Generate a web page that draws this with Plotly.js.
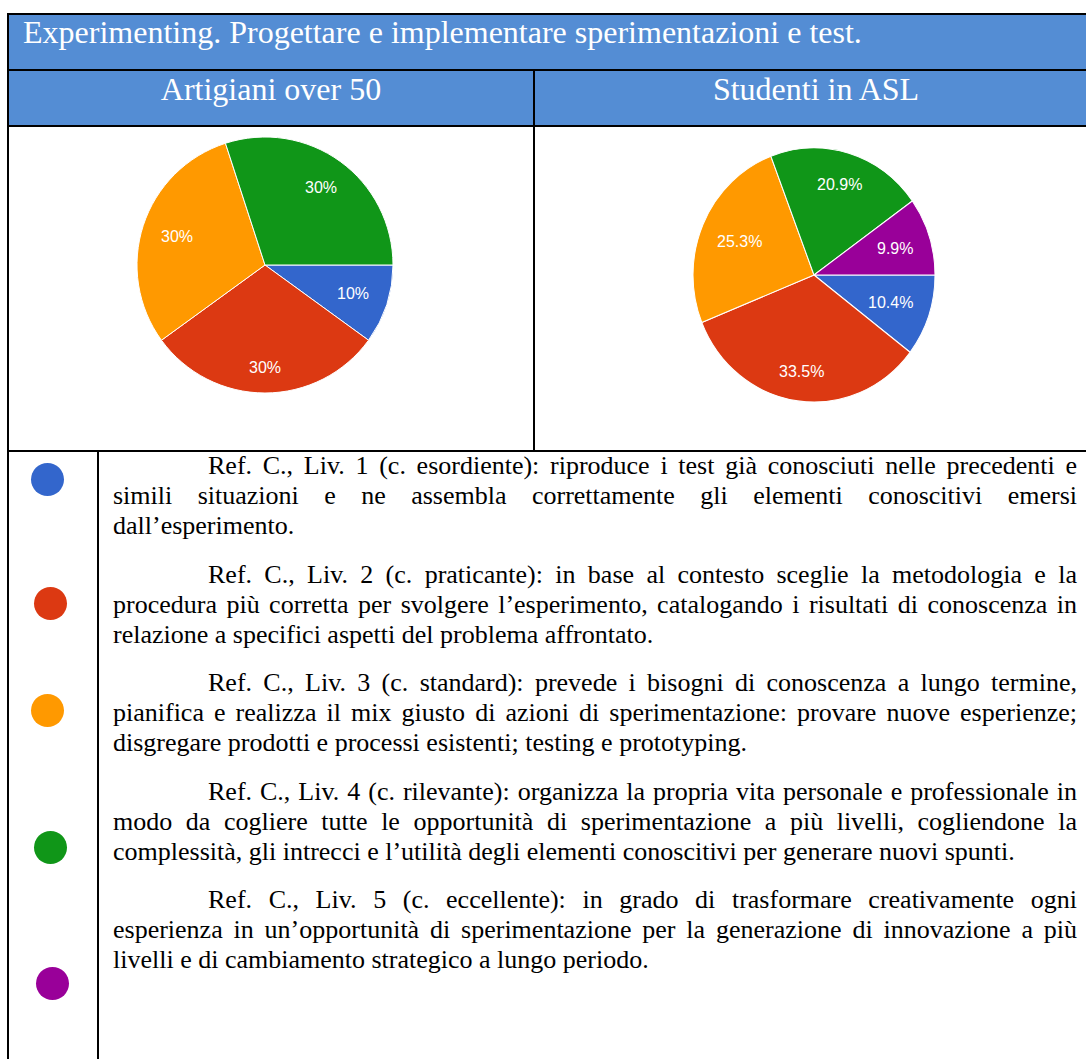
<!DOCTYPE html>
<html lang="it">
<head>
<meta charset="utf-8">
<title>Experimenting</title>
<script src="https://cdn.plot.ly/plotly-3.0.1.min.js"></script>
<style>
  html, body { margin: 0; padding: 0; background: #ffffff; }
  body {
    width: 1086px; height: 1059px; overflow: hidden; position: relative;
    font-family: "Liberation Serif", "Times New Roman", serif;
  }
  .band { position: absolute; background: #548DD4; }
  .rule { position: absolute; background: #000000; z-index: 5; }
  .head {
    position: absolute; color: #ffffff; font-size: 32px; line-height: 32px;
    white-space: nowrap;
  }
  .pie { position: absolute; }
  #levels {
    position: absolute; left: 113px; top: 451px; width: 964px;
    font-size: 26px; line-height: 30px; color: #000000;
  }
  #levels .para { margin: 0 0 18.5px 0; }
  #levels .line { white-space: nowrap; text-align: justify; text-align-last: justify; }
  #levels .line.first { text-indent: 95px; }
  #levels .line.last { text-align: left; text-align-last: left; }
  .dot { position: absolute; width: 33px; height: 33px; border-radius: 50%; }
</style>
</head>
<body>
<div id="page"></div>
<script>
// ---- data -------------------------------------------------------------
const pageTitle = 'Experimenting. Progettare e implementare sperimentazioni e test.';
const groupTitles = ['Artigiani over 50', 'Studenti in ASL'];
const levels = ['Liv. 1', 'Liv. 2', 'Liv. 3', 'Liv. 4', 'Liv. 5'];
const levelColors = ['#3366CC', '#DC3912', '#FF9900', '#109618', '#990099'];
const artigianiValues = [10, 30, 30, 30, 0];
const studentiValues = [10.4, 33.5, 25.3, 20.9, 9.9];

const levelLines = [
  ['Ref. C., Liv. 1 (c. esordiente): riproduce i test già conosciuti nelle precedenti e',
   'simili situazioni e ne assembla correttamente gli elementi conoscitivi emersi',
   'dall’esperimento.'],
  ['Ref. C., Liv. 2 (c. praticante): in base al contesto sceglie la metodologia e la',
   'procedura più corretta per svolgere l’esperimento, catalogando i risultati di conoscenza in',
   'relazione a specifici aspetti del problema affrontato.'],
  ['Ref. C., Liv. 3 (c. standard): prevede i bisogni di conoscenza a lungo termine,',
   'pianifica e realizza il mix giusto di azioni di sperimentazione: provare nuove esperienze;',
   'disgregare prodotti e processi esistenti; testing e prototyping.'],
  ['Ref. C., Liv. 4 (c. rilevante): organizza la propria vita personale e professionale in',
   'modo da cogliere tutte le opportunità di sperimentazione a più livelli, cogliendone la',
   'complessità, gli intrecci e l’utilità degli elementi conoscitivi per generare nuovi spunti.'],
  ['Ref. C., Liv. 5 (c. eccellente): in grado di trasformare creativamente ogni',
   'esperienza in un’opportunità di sperimentazione per la generazione di innovazione a più',
   'livelli e di cambiamento strategico a lungo periodo.']
];

// ---- page geometry ------------------------------------------------------
const page = document.getElementById('page');
function box(cls, l, t, w, h, extra) {
  const d = document.createElement('div');
  d.className = cls;
  Object.assign(d.style, {left: l + 'px', top: t + 'px', width: w + 'px', height: h + 'px'}, extra || {});
  page.appendChild(d);
  return d;
}

// header bands
box('band', 8, 13, 1090, 57);
box('band', 8, 70, 1090, 55);

// header texts
const t0 = document.createElement('div');
t0.className = 'head'; t0.style.left = '23px'; t0.style.top = '16px';
t0.textContent = pageTitle; page.appendChild(t0);

const colCenters = [271, 816];
groupTitles.forEach((g, i) => {
  const t = document.createElement('div');
  t.className = 'head';
  t.style.top = '73px';
  t.style.left = (colCenters[i] - 300) + 'px';
  t.style.width = '600px';
  t.style.textAlign = 'center';
  t.textContent = g;
  page.appendChild(t);
});

// table rules
box('rule', 7, 13, 1091, 2);
box('rule', 7, 69, 1091, 2);
box('rule', 7, 125, 1091, 2);
box('rule', 7, 450, 1091, 2);
box('rule', 7, 13, 2, 1046);
box('rule', 533, 70, 2, 382);
box('rule', 97, 451, 2, 608);

// ---- level descriptions --------------------------------------------------
const lv = document.createElement('div');
lv.id = 'levels';
levelLines.forEach(lines => {
  const p = document.createElement('div');
  p.className = 'para';
  lines.forEach((txt, k) => {
    const ln = document.createElement('div');
    ln.className = 'line' + (k === 0 ? ' first' : '') + (k === lines.length - 1 ? ' last' : '');
    ln.textContent = txt;
    p.appendChild(ln);
  });
  lv.appendChild(p);
});
page.appendChild(lv);

// colour keys beside the descriptions
const dotCenters = [[47, 479], [50, 603], [47, 710], [50, 847], [52, 983]];
levels.forEach((name, i) => {
  const d = box('dot', dotCenters[i][0] - 16.5, dotCenters[i][1] - 16.5, 33, 33,
                {background: levelColors[i]});
  d.title = name;
});

// ---- pies ----------------------------------------------------------------
const pieCells = [
  {left: 9, top: 127, width: 524, height: 323, cx: 265, cy: 265, r: 128, sy: 1.0},
  {left: 535, top: 127, width: 551, height: 323, cx: 814, cy: 275, r: 121, sy: 1.05}
];
const series = [artigianiValues, studentiValues];

const meas = document.createElement('canvas').getContext('2d');
meas.font = '16px "Liberation Sans", Arial, sans-serif';

function pctText(v, total) {
  const p = Math.round(v / total * 1000) / 10;
  return (p % 1 === 0 ? p.toFixed(0) : p.toFixed(1)) + '%';
}

series.forEach((vals, idx) => {
  const cell = pieCells[idx];
  const div = document.createElement('div');
  div.className = 'pie';
  Object.assign(div.style, {
    left: cell.left + 'px', top: cell.top + 'px',
    width: cell.width + 'px', height: cell.height + 'px'
  });
  const cxl = cell.cx - cell.left, cyl = cell.cy - cell.top;
  div.style.transformOrigin = cxl + 'px ' + cyl + 'px';
  div.style.transform = 'scale(1,' + cell.sy + ')';
  page.appendChild(div);

  // keep only the levels that occur in this group
  const keep = vals.map((v, i) => i).filter(i => vals[i] > 0);
  const values = keep.map(i => vals[i]);
  const labels = keep.map(i => levels[i]);
  const colors = keep.map(i => levelColors[i]);
  const total = values.reduce((a, b) => a + b, 0);

  // percentage labels sit on each slice's bisector, pushed out until the
  // far corner of the label reaches 86% of the radius
  const annotations = [];
  let cum = 0;
  values.forEach(v => {
    const phi = 2 * Math.PI * (cum + v / 2) / total;   // clockwise from 3 o'clock
    cum += v;
    const txt = pctText(v, total);
    const hw = meas.measureText(txt).width / 2, hh = 6;
    const c = Math.cos(phi), s = Math.sin(phi);
    const a = hw * (c >= 0 ? 1 : -1), b = hh * (s >= 0 ? 1 : -1);
    const R = 0.86 * cell.r;
    const k = c * a + s * b;
    const d = -k + Math.sqrt(k * k - (a * a + b * b - R * R));
    annotations.push({
      xref: 'paper', yref: 'paper',
      x: (cxl + d * c) / cell.width, y: 1 - (cyl + d * s) / cell.height,
      xanchor: 'center', yanchor: 'middle', showarrow: false,
      text: txt,
      font: {family: 'Liberation Sans, Arial, sans-serif', size: 16, color: '#ffffff'}
    });
  });

  const trace = {
    type: 'pie',
    values: values,
    labels: labels,
    sort: false,
    direction: 'clockwise',
    rotation: 90,
    textinfo: 'none',
    hoverinfo: 'label+percent',
    showlegend: false,
    marker: {colors: colors, line: {color: '#ffffff', width: 1}},
    domain: {
      x: [(cxl - cell.r) / cell.width, (cxl + cell.r) / cell.width],
      y: [1 - (cyl + cell.r) / cell.height, 1 - (cyl - cell.r) / cell.height]
    }
  };

  Plotly.newPlot(div, [trace], {
    width: cell.width, height: cell.height,
    margin: {l: 0, r: 0, t: 0, b: 0, pad: 0},
    paper_bgcolor: 'rgba(0,0,0,0)', plot_bgcolor: 'rgba(0,0,0,0)',
    showlegend: false,
    annotations: annotations
  }, {displayModeBar: false, staticPlot: true});
});
</script>
</body>
</html>
